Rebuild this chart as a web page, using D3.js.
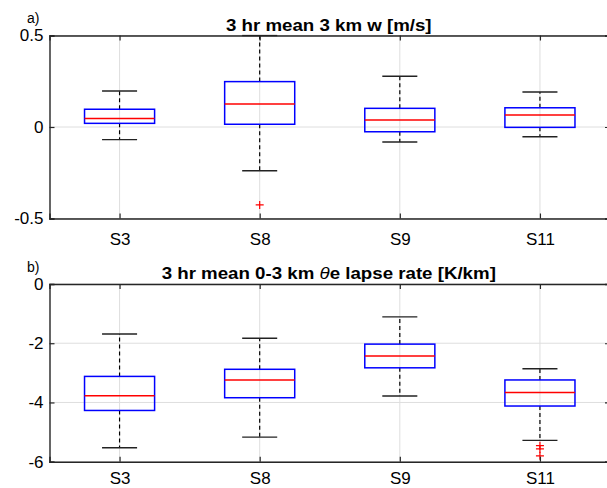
<!DOCTYPE html>
<html lang="en">
<head>
<meta charset="UTF-8">
<title>3 hr mean boxplots</title>
<script src="https://d3js.org/d3.v7.min.js"></script>
<style>
    body { margin: 0; background: #fff; }
    svg { display: block; }
    text { font-family: "Liberation Sans", Arial, sans-serif; fill: #000; }
</style>
</head>
<body>
<svg width="607" height="488"></svg>
<script>
    const stations = ["S3", "S8", "S9", "S11"];

    // panel a: 3 km w [m/s]
    const wLow = [-0.069, -0.239, -0.082, -0.053];
    const wQ1 = [0.02, 0.015, -0.026, -0.002];
    const wMed = [0.047, 0.126, 0.038, 0.066];
    const wQ3 = [0.097, 0.248, 0.102, 0.105];
    const wHigh = [0.197, 0.5, 0.277, 0.191];
    const wOut = [[], [-0.426], [], []];
    const wTicks = [-0.5, 0, 0.5];

    // panel b: 0-3 km theta-e lapse rate [K/km]
    const lrLow = [-5.53, -5.17, -3.78, -5.28];
    const lrQ1 = [-4.27, -3.84, -2.83, -4.12];
    const lrMed = [-3.77, -3.24, -2.43, -3.66];
    const lrQ3 = [-3.12, -2.88, -2.03, -3.24];
    const lrHigh = [-1.69, -1.83, -1.11, -2.86];
    const lrOut = [[], [], [], [-5.46, -5.57, -5.8]];
    const lrTicks = [-6, -4, -2, 0];

    const svg = d3.select("svg");
    const left = 49.5, right = 610;

    const x = d3.scaleLinear().domain([0.5, 4.5]).range([left, right]);

    function panel(opt) {
        const y = d3.scaleLinear().domain(opt.domain).range([opt.bottom, opt.top]);
        const g = svg.append("g");
        const clipId = "clip" + opt.tag;

        g.append("clipPath").attr("id", clipId)
            .append("rect")
            .attr("x", left).attr("y", opt.top - 1)
            .attr("width", right - left).attr("height", opt.bottom - opt.top + 2);

        // grid
        const grid = g.append("g").attr("stroke", "#dedede").attr("stroke-width", 1);
        grid.selectAll("line.gx").data(stations).join("line")
            .attr("x1", (d, i) => x(i + 1)).attr("x2", (d, i) => x(i + 1))
            .attr("y1", opt.top).attr("y2", opt.bottom);
        grid.selectAll("line.gy").data(opt.ticks).join("line")
            .attr("x1", left).attr("x2", right)
            .attr("y1", d => y(d)).attr("y2", d => y(d));

        const rows = stations.map((s, i) => ({
            s: s, i: i, lo: opt.low[i], q1: opt.q1[i], med: opt.med[i],
            q3: opt.q3[i], hi: opt.high[i], out: opt.out[i]
        }));

        const boxes = g.append("g").attr("clip-path", `url(#${clipId})`)
            .selectAll("g").data(rows).join("g");

        const bw = x(1.25) - x(1);   // half box width
        const cw = x(1.125) - x(1);  // half cap width

        // whiskers
        boxes.append("line")
            .attr("x1", d => x(d.i + 1)).attr("x2", d => x(d.i + 1))
            .attr("y1", d => y(d.q3)).attr("y2", d => y(d.hi))
            .attr("stroke", "#000").attr("stroke-width", 1.2).attr("stroke-dasharray", "4,3");
        boxes.append("line")
            .attr("x1", d => x(d.i + 1)).attr("x2", d => x(d.i + 1))
            .attr("y1", d => y(d.q1)).attr("y2", d => y(d.lo))
            .attr("stroke", "#000").attr("stroke-width", 1.2).attr("stroke-dasharray", "4,3");
        boxes.selectAll("line.cap").data(d => [d.lo, d.hi].map(v => ({ v: v, i: d.i }))).join("line")
            .attr("x1", d => x(d.i + 1) - cw).attr("x2", d => x(d.i + 1) + cw)
            .attr("y1", d => y(d.v)).attr("y2", d => y(d.v))
            .attr("stroke", "#222").attr("stroke-width", 1.4);

        // box
        boxes.append("rect")
            .attr("x", d => x(d.i + 1) - bw).attr("width", 2 * bw)
            .attr("y", d => y(d.q3)).attr("height", d => y(d.q1) - y(d.q3))
            .attr("fill", "none").attr("stroke", "#0000ff").attr("stroke-width", 1.5);

        // median
        boxes.append("line")
            .attr("x1", d => x(d.i + 1) - bw).attr("x2", d => x(d.i + 1) + bw)
            .attr("y1", d => y(d.med)).attr("y2", d => y(d.med))
            .attr("stroke", "#ff0000").attr("stroke-width", 1.5);

        // outliers
        boxes.selectAll("path.out").data(d => d.out.map(v => ({ v: v, i: d.i }))).join("path")
            .attr("d", d => {
                const cx = x(d.i + 1), cy = y(d.v);
                return `M${cx - 4},${cy}H${cx + 4}M${cx},${cy - 4}V${cy + 4}`;
            })
            .attr("stroke", "#ff0000").attr("stroke-width", 1.2).attr("fill", "none");

        // axes, ticks pointing inward on all four sides
        const fmt = d => String(d);
        const axL = g.append("g").attr("transform", `translate(${left},0)`)
            .call(d3.axisLeft(y).tickValues(opt.ticks).tickSize(-5).tickPadding(6).tickFormat(fmt));
        const axR = g.append("g").attr("transform", `translate(${right},0)`)
            .call(d3.axisRight(y).tickValues(opt.ticks).tickSize(-5).tickFormat(""));
        const axB = g.append("g").attr("transform", `translate(0,${opt.bottom})`)
            .call(d3.axisBottom(x).tickValues([1, 2, 3, 4]).tickSize(-5).tickPadding(opt.xPad)
                .tickFormat(d => stations[d - 1]));
        const axT = g.append("g").attr("transform", `translate(0,${opt.top})`)
            .call(d3.axisTop(x).tickValues([1, 2, 3, 4]).tickSize(-5).tickFormat(""));

        [axL, axR, axB, axT].forEach(a => {
            a.select(".domain").attr("stroke", "#262626").attr("stroke-width", 1.4);
            a.selectAll(".tick line").attr("stroke", "#262626").attr("stroke-width", 1.2);
            a.selectAll(".tick text").attr("font-size", 17).attr("fill", "#000");
        });

        // title
        const title = g.append("text")
            .attr("transform", `translate(${(left + right) / 2 - 1},${opt.titleY}) scale(1.1,1)`)
            .attr("text-anchor", "middle")
            .attr("font-size", 17).attr("font-weight", "bold");
        opt.title(title);

        g.append("text").attr("x", 27).attr("y", opt.labelY)
            .attr("font-size", 14).text(opt.label);
    }

    panel({
        tag: "a", top: 35.5, bottom: 218.5, domain: [-0.5, 0.5], ticks: wTicks,
        low: wLow, q1: wQ1, med: wMed, q3: wQ3, high: wHigh, out: wOut,
        titleY: 31, labelY: 23, label: "a)", xPad: 14,
        title: t => t.text("3 hr mean 3 km w [m/s]")
    });

    panel({
        tag: "b", top: 284, bottom: 461.7, domain: [-6, 0], ticks: lrTicks,
        low: lrLow, q1: lrQ1, med: lrMed, q3: lrQ3, high: lrHigh, out: lrOut,
        titleY: 279, labelY: 272, label: "b)", xPad: 10,
        title: t => {
            t.append("tspan").text("3 hr mean 0-3 km ");
            t.append("tspan").attr("font-style", "italic").attr("font-weight", "normal").text("θ");
            t.append("tspan").text("e lapse rate [K/km]");
        }
    });
</script>
</body>
</html>
